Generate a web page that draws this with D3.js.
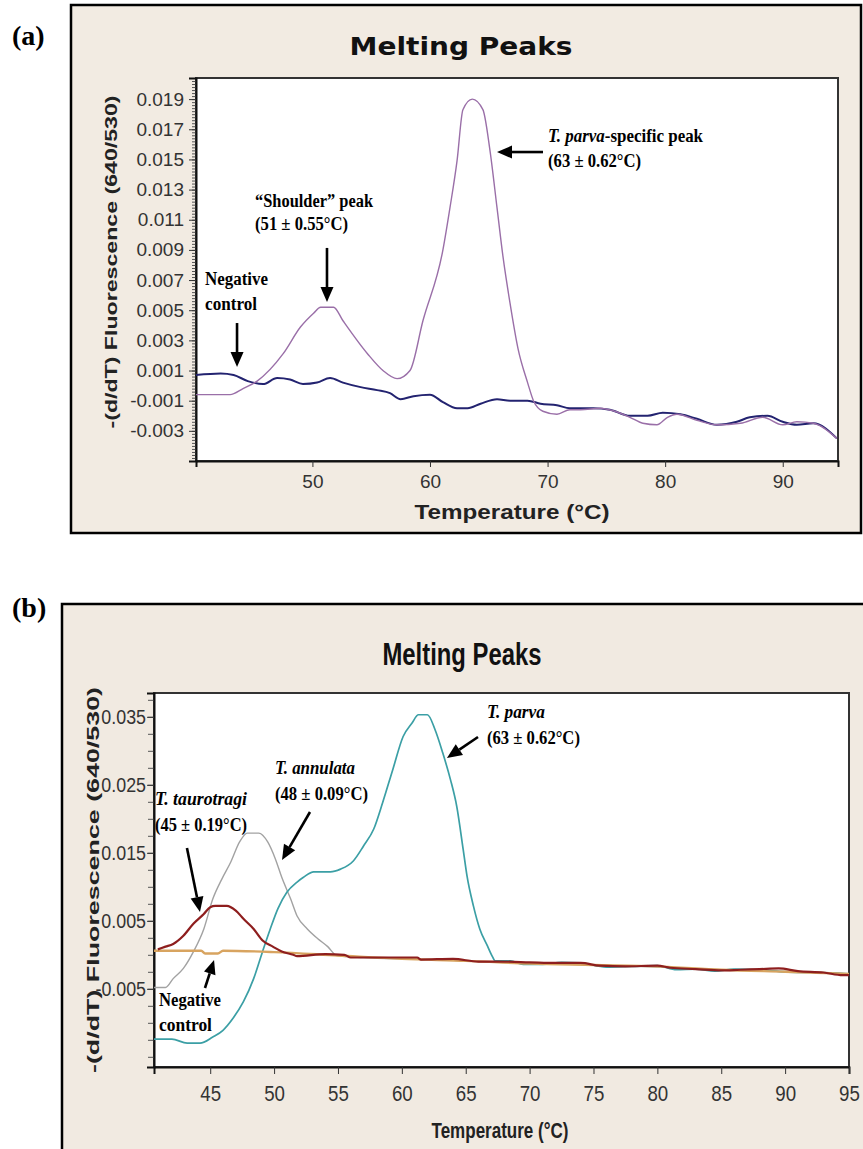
<!DOCTYPE html>
<html><head><meta charset="utf-8">
<script src="https://cdn.jsdelivr.net/npm/d3@7/dist/d3.min.js"></script>
<style>body{margin:0;background:#fff}</style>
</head><body>
<svg id="c" width="863" height="1149"></svg>
<script>
// ---------------- Panel (a) data ----------------
const tempA_sample = [40.1, 43.0, 44.1, 45.3, 47.5, 49.0, 50.1, 50.7, 51.8, 52.6, 54.7, 56.0, 57.2, 58.3, 59.4, 61.1, 61.7, 62.3, 62.8, 63.6, 64.5, 65.1, 65.7, 66.2, 66.8, 67.5, 68.3, 68.8, 69.6, 70.8, 71.9, 72.8, 74.5, 75.7, 77.0, 78.1, 79.3, 80.2, 81.0, 82.7, 84.4, 86.4, 88.3, 90.0, 91.2, 92.6, 94.6];
const valA_sample = [-0.0006, -0.0006, -0.0002, 0.0003, 0.0021, 0.0039, 0.0048, 0.0052, 0.0052, 0.0043, 0.0021, 0.0010, 0.00046, 0.0010, 0.0043, 0.0090, 0.0118, 0.0149, 0.0183, 0.0190, 0.0183, 0.0156, 0.0118, 0.0086, 0.0055, 0.0024, 0.0002, -0.0010, -0.0017, -0.0019, -0.0016, -0.0016, -0.0015, -0.0017, -0.0021, -0.0025, -0.0026, -0.0021, -0.0019, -0.0023, -0.0026, -0.0025, -0.0021, -0.0026, -0.0024, -0.0025, -0.0035];
const tempA_neg = [40.1, 42.2, 43.3, 44.5, 45.8, 47.0, 48.1, 49.2, 50.4, 51.5, 52.6, 54.1, 55.5, 56.6, 57.5, 58.6, 60.0, 61.1, 62.3, 63.2, 64.3, 65.7, 66.8, 68.3, 69.4, 70.8, 71.9, 73.9, 75.3, 77.0, 78.5, 79.8, 81.3, 82.7, 84.4, 86.1, 87.2, 88.7, 90.0, 91.2, 92.6, 94.6];
const valA_neg = [0.0007, 0.0008, 0.0007, 0.0003, 0.0001, 0.0005, 0.0004, 0.0001, 0.0002, 0.0005, 0.0002, -0.0001, -0.0003, -0.0005, -0.0009, -0.0007, -0.0006, -0.0011, -0.0015, -0.0015, -0.0012, -0.0009, -0.0010, -0.0010, -0.0012, -0.0013, -0.0015, -0.0015, -0.0016, -0.0020, -0.0020, -0.0018, -0.0019, -0.0022, -0.0026, -0.0024, -0.0021, -0.0020, -0.0024, -0.0026, -0.0025, -0.0035];
const yTicksA = [-0.003, -0.001, 0.001, 0.003, 0.005, 0.007, 0.009, 0.011, 0.013, 0.015, 0.017, 0.019];
const xTicksA = [50, 60, 70, 80, 90];

// ---------------- Panel (b) data ----------------
const tempB_ann = [40.6, 41.5, 42.1, 42.9, 43.7, 44.5, 45.2, 45.9, 46.6, 47.3, 47.9, 48.8, 49.5, 50.1, 50.6, 51.3, 51.8, 52.6, 53.4, 54.2, 54.9, 57.0, 60.0, 63.0, 66.0, 70.0, 75.0, 80.0, 85.0, 90.0, 95.0];
const valB_ann = [-0.0048, -0.0048, -0.0035, -0.0020, 0.0005, 0.0038, 0.0082, 0.0111, 0.0136, 0.0166, 0.0179, 0.0179, 0.0166, 0.0141, 0.0114, 0.0082, 0.0057, 0.0038, 0.0024, 0.0012, -0.0001, -0.0004, -0.0006, -0.0007, -0.0010, -0.0012, -0.0015, -0.0018, -0.0022, -0.0024, -0.0028];
const tempB_par = [40.6, 42.0, 43.2, 44.2, 45.2, 46.0, 46.8, 47.6, 48.4, 49.1, 49.7, 50.3, 51.0, 51.8, 52.3, 53.1, 54.4, 55.2, 56.2, 57.0, 57.8, 58.5, 59.3, 60.1, 60.8, 61.3, 62.0, 62.6, 63.2, 63.8, 64.3, 64.8, 65.1, 65.6, 66.1, 66.7, 67.1, 67.3, 68.5, 69.5, 71.0, 72.5, 74.0, 76.0, 78.0, 80.0, 81.5, 83.0, 84.5, 86.0, 88.0, 90.0, 92.0, 94.0, 95.0];
const valB_par = [-0.0124, -0.0124, -0.0130, -0.0130, -0.0121, -0.0111, -0.0093, -0.0069, -0.0035, 0.0005, 0.0038, 0.0068, 0.0092, 0.0107, 0.0114, 0.0122, 0.0122, 0.0126, 0.0138, 0.0160, 0.0185, 0.0224, 0.0273, 0.0321, 0.0341, 0.0353, 0.0353, 0.0331, 0.0297, 0.0258, 0.0218, 0.0155, 0.0116, 0.0072, 0.0038, 0.0013, -0.0003, -0.0009, -0.0009, -0.0014, -0.0014, -0.0011, -0.0012, -0.0018, -0.0017, -0.0016, -0.0022, -0.0021, -0.0024, -0.0021, -0.0022, -0.0025, -0.0026, -0.0027, -0.0028];
const tempB_tau = [40.9, 41.5, 42.1, 42.9, 43.7, 44.5, 45.0, 45.4, 46.3, 47.0, 47.6, 48.4, 49.1, 49.9, 50.6, 51.5, 51.8, 54.0, 55.5, 56.0, 61.2, 61.5, 64.0, 66.0, 67.5, 70.0, 72.0, 74.0, 75.5, 77.5, 80.0, 81.0, 83.0, 85.0, 86.5, 88.0, 89.5, 91.0, 93.0, 94.5, 95.0];
const valB_tau = [0.0008, 0.0012, 0.0016, 0.0028, 0.0046, 0.0060, 0.0070, 0.0072, 0.0072, 0.0065, 0.0053, 0.0038, 0.0021, 0.0012, 0.0005, 0.0000, -0.0002, 0.0001, 0.0000, -0.0004, -0.0004, -0.0007, -0.0006, -0.0010, -0.0010, -0.0011, -0.0012, -0.0012, -0.0016, -0.0017, -0.0016, -0.0019, -0.0021, -0.0023, -0.0022, -0.0021, -0.0020, -0.0024, -0.0026, -0.0030, -0.0030];
const tempB_neg = [40.6, 44.3, 44.6, 45.6, 46.0, 50.0, 55.0, 60.0, 65.0, 70.0, 75.0, 80.0, 85.0, 90.0, 95.0];
const valB_neg = [0.0006, 0.0006, 0.0002, 0.0002, 0.0006, 0.0004, -0.0001, -0.0006, -0.0009, -0.0013, -0.0015, -0.0017, -0.0022, -0.0025, -0.0028];
const yTicksB = [-0.005, 0.005, 0.015, 0.025, 0.035];
const xTicksB = [45, 50, 55, 60, 65, 70, 75, 80, 85, 90, 95];

// ---------------- Text ----------------
const titleText = "Melting Peaks";
const yLabelText = "-(d/dT) Fluorescence (640/530)";
const xLabelText = "Temperature (°C)";

const SANS = "'Liberation Sans', Arial, sans-serif";
const NARROW = "'Liberation Sans Narrow', 'Liberation Sans', Arial, sans-serif";
const SERIF = "'Liberation Serif', 'Times New Roman', serif";
const VERD = "'DejaVu Sans', Verdana, sans-serif";

const svg = d3.select('#c');
svg.append('rect').attr('width', 863).attr('height', 1149).attr('fill', '#fff');

const zip = (t, v) => t.map((d, i) => ({t: d, v: v[i]}));

function arrow(g, x1, y1, x2, y2, len, wid) {
  const a = Math.atan2(y2 - y1, x2 - x1);
  const bx = x2 - len * Math.cos(a), by = y2 - len * Math.sin(a);
  g.append('line').attr('x1', x1).attr('y1', y1).attr('x2', bx).attr('y2', by)
    .attr('stroke', '#000').attr('stroke-width', 2.6);
  const px = -Math.sin(a) * wid / 2, py = Math.cos(a) * wid / 2;
  g.append('path').attr('d', `M${x2},${y2}L${bx + px},${by + py}L${bx - px},${by - py}Z`).attr('fill', '#000');
}

function annot(g, x, y, parts, width, size) {
  const t = g.append('text').attr('x', x).attr('y', y)
    .attr('font-family', SERIF).attr('font-weight', 'bold').attr('font-size', size)
    .attr('textLength', width).attr('lengthAdjust', 'spacingAndGlyphs').attr('fill', '#000');
  parts.forEach(p => t.append('tspan').attr('font-style', p[1] ? 'italic' : 'normal').text(p[0]));
}

// =============== PANEL (a) ===============
(function () {
  const g = svg.append('g');
  g.append('rect').attr('x', 71).attr('y', 5).attr('width', 790).attr('height', 528)
    .attr('fill', '#f2ebe2').attr('stroke', '#000').attr('stroke-width', 2.5);
  g.append('text').attr('x', 12).attr('y', 45).attr('font-family', SERIF).attr('font-weight', 'bold')
    .attr('font-size', 28).text('(a)');

  const L = 196, R = 838, T = 78, B = 461;
  const x = d3.scaleLinear().domain([40.1, 94.7]).range([L, R]);
  const y = d3.scaleLinear().domain([-0.005, 0.0204]).range([B, T]);

  g.append('rect').attr('x', L).attr('y', T).attr('width', R - L).attr('height', B - T)
    .attr('fill', '#fff').attr('stroke', '#333').attr('stroke-width', 2);

  g.append('text').attr('x', 461).attr('y', 55).attr('text-anchor', 'middle')
    .attr('font-family', VERD).attr('font-weight', 'bold').attr('font-size', 25)
    .attr('textLength', 223).attr('lengthAdjust', 'spacingAndGlyphs').attr('fill', '#111').text(titleText);

  g.append('g').attr('transform', `translate(${L},0)`)
    .call(d3.axisLeft(y).tickValues(d3.range(-0.005, 0.02041, 0.0002)).tickSize(4).tickFormat(''))
    .call(s => { s.select('.domain').remove(); s.selectAll('line').attr('stroke', '#555'); });
  const ya = g.append('g').attr('transform', `translate(${L},0)`)
    .call(d3.axisLeft(y).tickValues(yTicksA).tickSize(7).tickPadding(5).tickFormat(d => d.toFixed(3)));
  ya.select('.domain').attr('stroke', '#111').attr('stroke-width', 2);
  ya.selectAll('line').attr('stroke', '#333');
  ya.selectAll('text').attr('font-family', SANS).attr('font-size', 19).attr('fill', '#333');

  const xa = g.append('g').attr('transform', `translate(0,${B})`)
    .call(d3.axisBottom(x).tickValues(xTicksA).tickSize(6).tickPadding(8).tickFormat(d3.format('d')));
  xa.select('.domain').attr('stroke', '#111').attr('stroke-width', 2);
  xa.selectAll('line').attr('stroke', '#333');
  xa.selectAll('text').attr('font-family', SANS).attr('font-size', 19).attr('fill', '#333');

  g.append('text').attr('transform', `translate(117,262) rotate(-90)`).attr('text-anchor', 'middle')
    .attr('font-family', SANS).attr('font-weight', 'bold').attr('font-size', 17)
    .attr('textLength', 333).attr('lengthAdjust', 'spacingAndGlyphs').attr('fill', '#222').text(yLabelText);
  g.append('text').attr('x', 512).attr('y', 519).attr('text-anchor', 'middle')
    .attr('font-family', SANS).attr('font-weight', 'bold').attr('font-size', 20)
    .attr('textLength', 195).attr('lengthAdjust', 'spacingAndGlyphs').attr('fill', '#222').text(xLabelText);

  g.append('clipPath').attr('id', 'clipA').append('rect').attr('x', L).attr('y', T).attr('width', R - L).attr('height', B - T);
  const line = d3.line().x(d => x(d.t)).y(d => y(d.v)).curve(d3.curveMonotoneX);
  const lg = g.append('g').attr('clip-path', 'url(#clipA)');
  lg.append('path').datum(zip(tempA_neg, valA_neg)).attr('d', line).attr('fill', 'none')
    .attr('stroke', '#232370').attr('stroke-width', 2);
  lg.append('path').datum(zip(tempA_sample, valA_sample)).attr('d', line).attr('fill', 'none')
    .attr('stroke', '#9a6fa8').attr('stroke-width', 1.4);

  annot(g, x(45.12), y(0.01185), [['“Shoulder” peak', false]], 118, 18);
  annot(g, x(45.12), y(0.01032), [['(51 ± 0.55°C)', false]], 93, 18);
  arrow(g, x(51.24), y(0.00913), x(51.24), y(0.00554), 15, 13);
  annot(g, x(70.04), y(0.01616), [['T. parva', true], ['-specific peak', false]], 155, 18);
  annot(g, x(70.04), y(0.0145), [['(63 ± 0.62°C)', false]], 93, 18);
  arrow(g, x(69.61), y(0.01549), x(65.70), y(0.01549), 15, 13);
  annot(g, x(40.87), y(0.00667), [['Negative', false]], 63, 18);
  annot(g, x(40.87), y(0.00501), [['control', false]], 52, 18);
  arrow(g, x(43.59), y(0.00415), x(43.59), y(0.00123), 15, 13);
})();

// =============== PANEL (b) ===============
(function () {
  const g = svg.append('g');
  g.append('rect').attr('x', 62).attr('y', 604).attr('width', 820).attr('height', 600)
    .attr('fill', '#f1eae1').attr('stroke', '#000').attr('stroke-width', 2.5);
  g.append('text').attr('x', 12).attr('y', 617).attr('font-family', SERIF).attr('font-weight', 'bold')
    .attr('font-size', 28).text('(b)');

  const L = 154, R = 849, T = 693, B = 1067;
  const x = d3.scaleLinear().domain([40.6, 95]).range([L, R]);
  const y = d3.scaleLinear().domain([-0.0165, 0.0385]).range([B, T]);

  g.append('rect').attr('x', L).attr('y', T).attr('width', R - L).attr('height', B - T)
    .attr('fill', '#fff').attr('stroke', '#333').attr('stroke-width', 2);

  g.append('text').attr('x', 462).attr('y', 665).attr('text-anchor', 'middle')
    .attr('font-family', NARROW).attr('font-weight', 'bold').attr('font-size', 32)
    .attr('textLength', 159).attr('lengthAdjust', 'spacingAndGlyphs').attr('fill', '#111').text(titleText);

  g.append('g').attr('transform', `translate(${L},0)`)
    .call(d3.axisLeft(y).tickValues(d3.range(-0.015, 0.0376, 0.0025)).tickSize(6).tickFormat(''))
    .call(s => { s.select('.domain').remove(); s.selectAll('line').attr('stroke', '#555'); });
  const sx = 0.85;
  const ya = g.append('g').attr('transform', `translate(${L},0)`)
    .call(d3.axisLeft(y).tickValues(yTicksB).tickSize(7).tickPadding(1).tickFormat(d => d.toFixed(3)));
  ya.select('.domain').attr('stroke', '#111').attr('stroke-width', 2);
  ya.selectAll('line').attr('stroke', '#333');
  ya.selectAll('text').attr('font-family', NARROW).attr('font-size', 21).attr('fill', '#333')
    .attr('x', -8 / sx).attr('transform', `scale(${sx},1)`);

  const xa = g.append('g').attr('transform', `translate(0,${B})`)
    .call(d3.axisBottom(x).tickValues(xTicksB).tickSize(7).tickPadding(11).tickFormat(d3.format('d')));
  xa.select('.domain').attr('stroke', '#111').attr('stroke-width', 2);
  xa.selectAll('line').attr('stroke', '#333');
  xa.selectAll('text').attr('font-family', NARROW).attr('font-size', 22).attr('fill', '#333')
    .attr('transform', `scale(${sx},1)`);

  g.append('text').attr('transform', `translate(99,880) rotate(-90)`).attr('text-anchor', 'middle')
    .attr('font-family', SANS).attr('font-weight', 'bold').attr('font-size', 17)
    .attr('textLength', 386).attr('lengthAdjust', 'spacingAndGlyphs').attr('fill', '#222').text(yLabelText);
  g.append('text').attr('x', 500).attr('y', 1138).attr('text-anchor', 'middle')
    .attr('font-family', NARROW).attr('font-weight', 'bold').attr('font-size', 22)
    .attr('textLength', 137).attr('lengthAdjust', 'spacingAndGlyphs').attr('fill', '#222').text(xLabelText);

  g.append('clipPath').attr('id', 'clipB').append('rect').attr('x', L).attr('y', T).attr('width', R - L).attr('height', B - T);
  const line = d3.line().x(d => x(d.t)).y(d => y(d.v)).curve(d3.curveMonotoneX);
  const lg = g.append('g').attr('clip-path', 'url(#clipB)');
  lg.append('path').datum(zip(tempB_ann, valB_ann)).attr('d', line).attr('fill', 'none')
    .attr('stroke', '#a2a2a2').attr('stroke-width', 1.4);
  lg.append('path').datum(zip(tempB_par, valB_par)).attr('d', line).attr('fill', 'none')
    .attr('stroke', '#3b9fa5').attr('stroke-width', 1.7);
  lg.append('path').datum(zip(tempB_neg, valB_neg)).attr('d', line).attr('fill', 'none')
    .attr('stroke', '#d8a460').attr('stroke-width', 2.4);
  lg.append('path').datum(zip(tempB_tau, valB_tau)).attr('d', line).attr('fill', 'none')
    .attr('stroke', '#8e1e1e').attr('stroke-width', 2.2);

  annot(g, x(40.68), y(0.02203), [['T. taurotragi', true]], 92, 19);
  annot(g, x(40.68), y(0.01821), [['(45 ± 0.19°C)', false]], 92, 19);
  arrow(g, x(43.18), y(0.01571), x(44.20), y(0.00629), 15, 13);
  annot(g, x(50.07), y(0.02659), [['T. annulata', true]], 80, 19);
  annot(g, x(50.07), y(0.02276), [['(48 ± 0.09°C)', false]], 93, 19);
  arrow(g, x(52.81), y(0.0210), x(50.62), y(0.01394), 15, 13);
  annot(g, x(66.66), y(0.03482), [['T. parva', true]], 58, 19);
  annot(g, x(66.66), y(0.0310), [['(63 ± 0.62°C)', false]], 93, 19);
  arrow(g, x(65.96), y(0.03203), x(63.53), y(0.02894), 15, 13);
  annot(g, x(40.99), y(-0.00753), [['Negative', false]], 62, 19);
  annot(g, x(40.99), y(-0.01121), [['control', false]], 53, 19);
  arrow(g, x(44.59), y(-0.00488), x(45.30), y(-0.00076), 14, 12);
})();
</script>
</body></html>
